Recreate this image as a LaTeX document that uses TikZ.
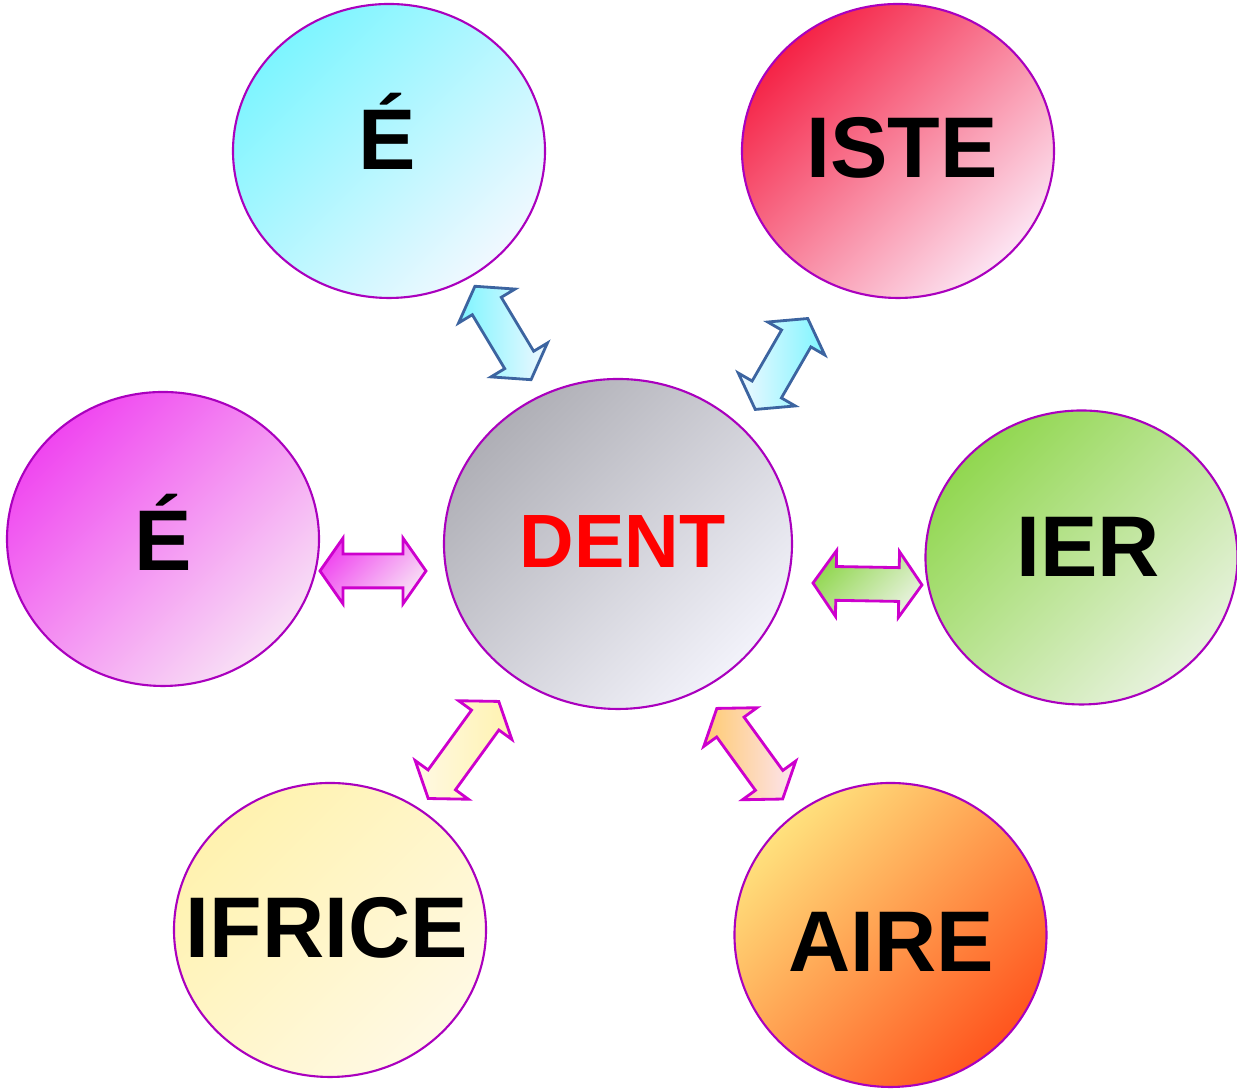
\documentclass[tikz,border=0pt]{standalone}
\usepackage{fontspec}
\setmainfont{Liberation Sans}
\usetikzlibrary{shapes.geometric,shapes.arrows}
\definecolor{bord}{RGB}{170,0,190}
\definecolor{fbord}{RGB}{205,0,205}
\definecolor{bbord}{RGB}{60,100,160}
\definecolor{cyanA}{RGB}{125,245,255}
\definecolor{cyanB}{RGB}{188,240,255}
\definecolor{cyanC}{RGB}{240,248,255}
\definecolor{roseA}{RGB}{245,35,70}
\definecolor{roseB}{RGB}{240,130,175}
\definecolor{roseC}{RGB}{252,228,242}
\definecolor{mauveA}{RGB}{240,70,240}
\definecolor{mauveB}{RGB}{225,140,225}
\definecolor{mauveC}{RGB}{248,225,245}
\definecolor{grisA}{RGB}{175,175,182}
\definecolor{grisB}{RGB}{205,205,218}
\definecolor{grisC}{RGB}{242,242,250}
\definecolor{vertA}{RGB}{145,215,80}
\definecolor{vertB}{RGB}{185,225,140}
\definecolor{vertC}{RGB}{232,242,222}
\definecolor{jauneA}{RGB}{255,242,175}
\definecolor{jauneB}{RGB}{255,244,195}
\definecolor{jauneC}{RGB}{255,249,228}
\definecolor{orangeA}{RGB}{255,225,125}
\definecolor{orangeB}{RGB}{255,165,90}
\definecolor{orangeC}{RGB}{255,85,30}
\tikzset{
  bulle/.style={ellipse,draw=bord,line width=0.6pt,minimum width=3.12cm,minimum height=2.94cm,inner sep=0pt},
  degrade/.style={top color=#1A,middle color=#1B,bottom color=#1C,shading angle=45},
  mot/.style={font=\bfseries\fontsize{24.5}{30}\selectfont,anchor=base,inner sep=0pt},
  fleche/.style={double arrow,draw=fbord,line width=0.8pt,minimum height=1.06cm,inner xsep=0pt,inner ysep=0.155cm,
    double arrow head extend=0.16cm,double arrow tip angle=110}
}
\begin{document}
\begin{tikzpicture}
\useasboundingbox (0,0) rectangle (12.37,10.89);
\node[bulle,degrade=cyan] (eA) at (3.89,9.38) {};
\node[bulle,degrade=rose] (eB) at (8.98,9.38) {};
\node[bulle,degrade=mauve] (eC) at (1.63,5.50) {};
\node[bulle,minimum width=3.48cm,minimum height=3.30cm,degrade=gris] (dent) at (6.18,5.45) {};
\node[bulle,degrade=vert] (eD) at (10.815,5.315) {};
\node[bulle,degrade=jaune] (eE) at (3.30,1.59) {};
\node[bulle,minimum height=3.04cm,degrade=orange] (eF) at (8.905,1.54) {};
\node[mot] (tA) at (3.87,9.19) {É};
\node[mot] (tB) at (9.02,9.11) {ISTE};
\node[mot] (tC) at (1.63,5.18) {É};
\node[mot,text=red,font=\bfseries\fontsize{21.5}{26}\selectfont] (tdent) at (6.225,5.21) {DENT};
\node[mot] (tD) at (10.88,5.12) {IER};
\node[mot] (tE) at (3.27,1.31) {IFRICE};
\node[mot] (tF) at (8.915,1.17) {AIRE};
\node[fleche,draw=bbord,rotate=-59,minimum height=1.09cm,left color=cyanA,right color=cyanC] (f1) at (5.03,7.56) {};
\node[fleche,draw=bbord,rotate=60,minimum height=1.05cm,right color=cyanA,left color=cyanC] (f2) at (7.815,7.25) {};
\node[fleche,degrade=mauve] (f3) at (3.73,5.18) {};
\node[fleche,rotate=-1,minimum height=1.09cm,degrade=vert] (f4) at (8.675,5.05) {};
\node[fleche,rotate=54,minimum height=1.2cm,right color=jauneA,left color=jauneC] (f5) at (4.635,3.39) {};
\node[fleche,rotate=-54,minimum height=1.12cm,left color=orangeA!90!red,right color=roseC] (f6) at (7.4975,3.3525) {};
\end{tikzpicture}
\end{document}
